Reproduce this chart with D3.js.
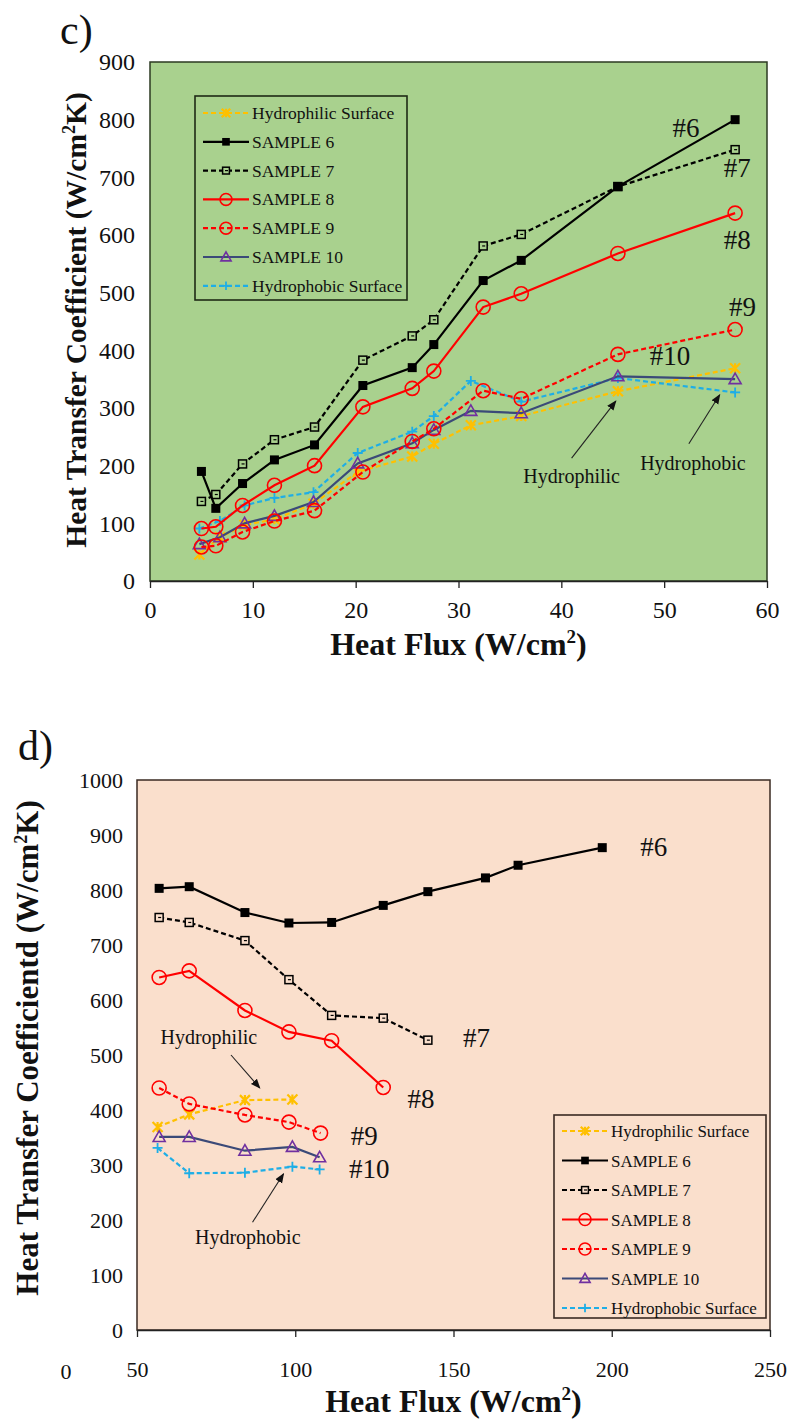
<!DOCTYPE html>
<html>
<head>
<meta charset="utf-8">
<script src="https://cdn.jsdelivr.net/npm/d3@7"></script>
<style>
  body { margin: 0; background: #fff; }
  svg { display: block; }
  text { font-family: "Liberation Serif", "Times New Roman", serif; fill: #111; }
</style>
</head>
<body>
<div id="chart"></div>
<script>
// ---- panel c) data (heat flux W/cm2 -> HTC W/cm2K) ----
const cFluxSamples  = [5.0, 6.4, 9.0, 12.1, 16.0, 20.7, 25.5, 27.6, 32.4, 36.1, 45.5, 56.9];
const cFluxSurfaces = [4.8, 6.8, 9.2, 12.1, 15.9, 20.2, 25.5, 27.6, 31.2, 36.1, 45.5, 56.9];
const cS6     = [190, 126, 169, 210, 236, 339, 370, 410, 521, 556, 684, 800];
const cS7     = [138, 150, 203, 245, 267, 383, 425, 453, 581, 601, 684, 748];
const cS8     = [91, 94, 131, 166, 200, 302, 334, 364, 475, 498, 568, 638];
const cS9     = [59, 61, 85, 104, 122, 189, 242, 264, 330, 316, 393, 436];
const cS10    = [64, 76, 100, 113, 137, 204, 239, 262, 295, 291, 355, 350];
const cPhilic = [46, 76, 97, 107, 134, 189, 216, 238, 270, 286, 329, 369];
const cPhobic = [91, 104, 131, 144, 154, 222, 259, 286, 347, 311, 352, 327];
const cXTicks = [0, 10, 20, 30, 40, 50, 60];
const cYTicks = [0, 100, 200, 300, 400, 500, 600, 700, 800, 900];

// ---- panel d) data ----
const dFluxS6 = [57.0, 66.5, 84.1, 98.0, 111.5, 127.8, 141.9, 160.1, 170.4, 197.0];
const dS6     = [803, 806, 759, 740, 741, 772, 797, 822, 845, 877];
const dFluxS7 = [57.0, 66.5, 84.1, 98.0, 111.5, 127.8, 141.9];
const dS7     = [750, 741, 708, 637, 572, 567, 527];
const dFluxS8 = [57.0, 66.5, 84.1, 98.0, 111.5, 127.8];
const dS8     = [641, 653, 581, 542, 526, 441];
const dFluxS9 = [57.0, 66.5, 84.1, 98.0, 108.0];
const dS9     = [440, 411, 391, 378, 358];
const dFluxS10 = [57.0, 66.5, 84.1, 99.1, 107.7];
const dS10     = [351, 351, 326, 333, 314];
const dFluxPhilic = [56.5, 66.5, 84.1, 99.1];
const dPhilic     = [369, 392, 418, 419];
const dFluxPhobic = [56.5, 66.5, 84.1, 99.1, 107.7];
const dPhobic     = [331, 285, 286, 297, 292];
const dXTicks = [50, 100, 150, 200, 250];
const dYTicks = [0, 100, 200, 300, 400, 500, 600, 700, 800, 900, 1000];

// legend order and series styles
const seriesNames = ['Hydrophilic Surface', 'SAMPLE 6', 'SAMPLE 7', 'SAMPLE 8', 'SAMPLE 9', 'SAMPLE 10', 'Hydrophobic Surface'];
const styles = {
    'Hydrophilic Surface': { line: '#ffc000', dash: '5,3', marker: 'star', mk: '#ffc000' },
    'SAMPLE 6':            { line: '#000000', dash: null,  marker: 'sqFill', mk: '#000000' },
    'SAMPLE 7':            { line: '#000000', dash: '5,3', marker: 'sqOpen', mk: '#000000' },
    'SAMPLE 8':            { line: '#ff0000', dash: null,  marker: 'circle', mk: '#ff0000' },
    'SAMPLE 9':            { line: '#ff0000', dash: '5,3', marker: 'circle', mk: '#ff0000' },
    'SAMPLE 10':           { line: '#3b4a78', dash: null,  marker: 'tri', mk: '#7030a0' },
    'Hydrophobic Surface': { line: '#1eaee6', dash: '5,3', marker: 'plus', mk: '#1eaee6' }
};

const svg = d3.select('#chart').append('svg').attr('width', 794).attr('height', 1420);

svg.append('defs').append('marker')
    .attr('id', 'arrow').attr('viewBox', '0 0 10 10')
    .attr('refX', 9).attr('refY', 5)
    .attr('markerWidth', 9).attr('markerHeight', 9)
    .attr('orient', 'auto')
    .append('path').attr('d', 'M0,1 L10,5 L0,9 Z').attr('fill', '#111');

function drawMarker(g, type, x, y, color, bg, scale = 1) {
    if (type === 'sqFill') {
        const s = 9 * scale;
        g.append('rect').attr('x', x - s / 2).attr('y', y - s / 2).attr('width', s).attr('height', s).attr('fill', color);
    } else if (type === 'sqOpen') {
        const s = 8 * scale;
        g.append('rect').attr('x', x - s / 2).attr('y', y - s / 2).attr('width', s).attr('height', s)
            .attr('fill', bg).attr('stroke', color).attr('stroke-width', 1.5);
        g.append('line').attr('x1', x - 1).attr('x2', x + 2).attr('y1', y).attr('y2', y).attr('stroke', color).attr('stroke-width', 1.2);
    } else if (type === 'circle') {
        g.append('circle').attr('cx', x).attr('cy', y).attr('r', 7 * scale)
            .attr('fill', 'none').attr('stroke', color).attr('stroke-width', 1.6);
    } else if (type === 'tri') {
        const s = 6 * scale;
        g.append('path').attr('d', `M${x},${y - s} L${x + s},${y + s * 0.75} L${x - s},${y + s * 0.75} Z`)
            .attr('fill', 'none').attr('stroke', color).attr('stroke-width', 1.6);
    } else if (type === 'star') {
        const s = 5 * scale;
        g.append('path').attr('d', `M${x - s},${y - s} L${x + s},${y + s} M${x - s},${y + s} L${x + s},${y - s} M${x},${y - s} L${x},${y + s}`)
            .attr('stroke', color).attr('stroke-width', 2.2);
    } else if (type === 'plus') {
        const s = 5 * scale;
        g.append('path').attr('d', `M${x - s},${y} L${x + s},${y} M${x},${y - s} L${x},${y + s}`)
            .attr('stroke', color).attr('stroke-width', 1.8);
    }
}

function drawPanel(p) {
    const x = d3.scaleLinear().domain(p.xDomain).range([p.left, p.right]);
    const y = d3.scaleLinear().domain(p.yDomain).range([p.bottom, p.top]);
    const g = svg.append('g');

    // plot background + frame
    g.append('rect')
        .attr('x', p.left).attr('y', p.top)
        .attr('width', p.right - p.left).attr('height', p.bottom - p.top)
        .attr('fill', p.bg).attr('stroke', p.frame).attr('stroke-width', 1.5);

    // x axis (ticks outward only)
    const xAxis = g.append('g').attr('transform', `translate(0,${p.bottom})`)
        .call(d3.axisBottom(x).tickValues(p.xTicks).tickSize(7).tickSizeOuter(0).tickPadding(p.xPad));
    xAxis.select('.domain').attr('stroke', '#222').attr('stroke-width', 1.5);
    xAxis.selectAll('.tick line').attr('stroke', '#222').attr('stroke-width', 1.3);
    xAxis.selectAll('.tick text').attr('font-size', p.tickSize).attr('font-family', '"Liberation Serif", serif').attr('fill', '#111');

    const yAxis = g.append('g').attr('transform', `translate(${p.left},0)`)
        .call(d3.axisLeft(y).tickValues(p.yTicks).tickFormat(d3.format('d')).tickSize(0).tickPadding(p.yPad));
    yAxis.select('.domain').remove();
    yAxis.selectAll('.tick text').attr('font-size', p.tickSize).attr('font-family', '"Liberation Serif", serif').attr('fill', '#111');

    // axis titles
    g.append('text')
        .attr('x', (p.left + p.right) / 2).attr('y', p.xTitleY)
        .attr('text-anchor', 'middle').attr('font-size', 32).attr('font-weight', 'bold')
        .html('Heat Flux (W/cm<tspan dy="-12" font-size="19">2</tspan><tspan dy="12">)</tspan>');
    g.append('text')
        .attr('transform', `translate(${p.yTitleX},${p.yTitleC}) rotate(-90)`)
        .attr('text-anchor', 'middle').attr('font-size', p.yTitleSize).attr('font-weight', 'bold')
        .html(`${p.yTitle} (W/cm<tspan dy="-11" font-size="18">2</tspan><tspan dy="11">K)</tspan>`);

    // panel tag
    g.append('text').attr('x', p.tagX).attr('y', p.tagY).attr('font-size', 42).text(p.tag);

    // series lines
    p.series.forEach(s => {
        const st = styles[s.name];
        const pts = s.xs.map((v, i) => [x(v), y(s.ys[i])]);
        g.append('path')
            .attr('d', d3.line()(pts))
            .attr('fill', 'none').attr('stroke', st.line).attr('stroke-width', 2.2)
            .attr('stroke-dasharray', st.dash);
        pts.forEach(([px, py]) => drawMarker(g, st.marker, px, py, st.mk, p.bg));
    });

    // labels and arrows
    p.labels.forEach(l => {
        g.append('text').attr('x', x(l.x)).attr('y', y(l.y))
            .attr('text-anchor', l.anchor || 'start')
            .attr('font-size', l.size || 27).text(l.text);
    });
    p.arrows.forEach(a => {
        g.append('line')
            .attr('x1', x(a.x1)).attr('y1', y(a.y1)).attr('x2', x(a.x2)).attr('y2', y(a.y2))
            .attr('stroke', '#222').attr('stroke-width', 1.1).attr('marker-end', 'url(#arrow)');
    });

    // legend
    const L = p.legend;
    g.append('rect').attr('x', L.x).attr('y', L.y).attr('width', L.w).attr('height', L.h)
        .attr('fill', p.bg).attr('stroke', L.stroke).attr('stroke-width', 1.6);
    seriesNames.forEach((name, i) => {
        const st = styles[name];
        const cy = L.y + L.first + i * L.step;
        g.append('line').attr('x1', L.x + 8).attr('x2', L.x + 54).attr('y1', cy).attr('y2', cy)
            .attr('stroke', st.line).attr('stroke-width', 2.2).attr('stroke-dasharray', st.dash);
        drawMarker(g, st.marker, L.x + 31, cy, st.mk, p.bg, 0.85);
        g.append('text').attr('x', L.x + 57).attr('y', cy + 6).attr('font-size', L.font).text(name);
    });
}

// panel c)
drawPanel({
    tag: 'c)', tagX: 60, tagY: 44,
    left: 150, right: 767, top: 62, bottom: 581,
    xDomain: [0, 60], yDomain: [0, 900], xTicks: cXTicks, yTicks: cYTicks,
    yPad: 15, xPad: 13, tickSize: 24,
    bg: '#a9d18e', frame: '#2d3a22',
    xTitleY: 655, yTitleX: 86, yTitleC: 320, yTitleSize: 29.5, yTitle: 'Heat Transfer Coefficient',
    series: [
        { name: 'Hydrophilic Surface', xs: cFluxSurfaces, ys: cPhilic },
        { name: 'Hydrophobic Surface', xs: cFluxSurfaces, ys: cPhobic },
        { name: 'SAMPLE 10', xs: cFluxSurfaces, ys: cS10 },
        { name: 'SAMPLE 9', xs: cFluxSamples, ys: cS9 },
        { name: 'SAMPLE 8', xs: cFluxSamples, ys: cS8 },
        { name: 'SAMPLE 7', xs: cFluxSamples, ys: cS7 },
        { name: 'SAMPLE 6', xs: cFluxSamples, ys: cS6 }
    ],
    labels: [
        { text: '#6', x: 50.8, y: 770 },
        { text: '#7', x: 55.8, y: 700 },
        { text: '#8', x: 55.8, y: 575 },
        { text: '#9', x: 56.3, y: 460 },
        { text: '#10', x: 48.6, y: 375 },
        { text: 'Hydrophilic', x: 41, y: 170, anchor: 'middle', size: 20 },
        { text: 'Hydrophobic', x: 52.8, y: 193, anchor: 'middle', size: 20 }
    ],
    arrows: [
        { x1: 41, y1: 213, x2: 45.3, y2: 312 },
        { x1: 52.4, y1: 238, x2: 55.4, y2: 323 }
    ],
    legend: { x: 195, y: 96, w: 212, h: 204, first: 17, step: 28.8, stroke: '#1e2a16', font: 17.5 }
});

// panel d)
drawPanel({
    tag: 'd)', tagX: 18, tagY: 760,
    left: 137, right: 770, top: 780, bottom: 1330,
    xDomain: [50, 250], yDomain: [0, 1000], xTicks: dXTicks, yTicks: dYTicks,
    yPad: 14, xPad: 24, tickSize: 22,
    bg: '#fadfcc', frame: '#3a2a22',
    xTitleY: 1412, yTitleX: 38, yTitleC: 1048, yTitleSize: 31, yTitle: 'Heat Transfer Coefficientd',
    series: [
        { name: 'Hydrophobic Surface', xs: dFluxPhobic, ys: dPhobic },
        { name: 'Hydrophilic Surface', xs: dFluxPhilic, ys: dPhilic },
        { name: 'SAMPLE 10', xs: dFluxS10, ys: dS10 },
        { name: 'SAMPLE 9', xs: dFluxS9, ys: dS9 },
        { name: 'SAMPLE 8', xs: dFluxS8, ys: dS8 },
        { name: 'SAMPLE 7', xs: dFluxS7, ys: dS7 },
        { name: 'SAMPLE 6', xs: dFluxS6, ys: dS6 }
    ],
    labels: [
        { text: '#6', x: 209, y: 862 },
        { text: '#7', x: 153, y: 515 },
        { text: '#8', x: 135.5, y: 403 },
        { text: '#9', x: 117.5, y: 337 },
        { text: '#10', x: 117, y: 276 },
        { text: 'Hydrophilic', x: 72.7, y: 520, anchor: 'middle', size: 20 },
        { text: 'Hydrophobic', x: 85, y: 156, anchor: 'middle', size: 20 }
    ],
    arrows: [
        { x1: 79.7, y1: 500, x2: 88.8, y2: 440 },
        { x1: 86.5, y1: 196, x2: 96.3, y2: 284 }
    ],
    legend: { x: 554, y: 1115, w: 212, h: 203, first: 16, step: 29.5, stroke: '#3a2a22', font: 17 }
});

// stray "0" tick label left of panel d's x axis, as in the source figure
svg.append('text').attr('x', 66).attr('y', 1379).attr('text-anchor', 'middle')
    .attr('font-size', 22).text('0');
</script>
</body>
</html>
